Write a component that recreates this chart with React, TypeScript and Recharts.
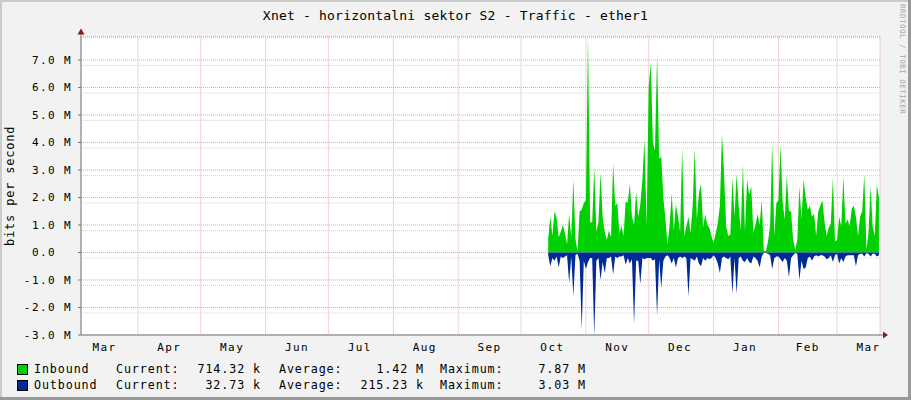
import React from "react";
import { ComposedChart, Area, XAxis, YAxis, CartesianGrid, ReferenceDot } from "recharts";

document.body.style.margin = "0";

const MONO = '"DejaVu Sans Mono", monospace';
const AXIS = "#7a7a7a";
const ARROW = "#8b1a1a";
const IN_COLOR = "#00CF00";
const OUT_COLOR = "#002A97";

// days counted from 1 Mar of the first year; samples are one per day
const FIRST_DAY = 227;

// Mbit/s
const inbound = [
  0.5, 1.3, 0.6, 1.5, 1.25, 0.55, 0.75, 1.0, 0.7, 0.3,
  1.4, 0.55, 2.65, 0.5, 0.05, 1.5, 1.55, 1.8, 1.9, 7.87,
  1.1, 1.1, 3.1, 0.75, 1.1, 2.9, 1.3, 0.75, 0.45, 0.8,
  0.55, 3.25, 1.7, 1.8, 0.7, 0.95, 0.6, 1.85, 1.8, 2.5,
  1.3, 1.0, 2.2, 1.3, 1.75, 2.65, 4.1, 0.95, 6.0, 6.9,
  4.0, 3.7, 7.2, 3.4, 3.5, 2.0, 1.2, 0.3, 1.0, 2.15,
  0.8, 1.75, 1.3, 0.75, 3.8, 0.6, 0.95, 1.3, 0.7, 1.7,
  3.8, 1.2, 2.15, 2.5, 0.9, 1.4, 1.0, 0.9, 0.6, 0.35,
  0.7, 1.05, 1.7, 4.3, 2.9, 0.95, 0.6, 0.65, 2.7, 1.3,
  2.85, 1.7, 0.8, 3.2, 0.75, 2.65, 2.1, 2.4, 0.7, 1.0,
  1.4, 1.0, 1.9, 0.05, 0.05, 0.4, 0.95, 4.0, 0.6, 1.8,
  1.9, 3.9, 1.8, 1.2, 2.8, 1.5, 1.5, 0.45, 0.1, 0.45,
  2.4, 1.2, 2.65, 2.0, 1.55, 1.7, 1.3, 1.4, 0.6, 1.5,
  1.7, 1.9, 1.1, 0.6, 0.9, 1.05, 2.7, 0.4, 0.45, 1.3,
  0.95, 2.75, 1.05, 1.2, 0.95, 1.6, 1.7, 1.3, 0.6, 1.3,
  1.5, 2.85, 0.1, 0.7, 2.4, 0.95, 0.6, 2.45, 2.0,
];

// magnitudes, drawn below zero
const outbound = [
  0.1, 0.5, 0.2, 0.3, 0.15, 0.55, 0.15, 0.2, 0.15, 0.1,
  1.1, 0.15, 1.6, 0.1, 0.05, 0.3, 2.8, 0.3, 0.6, 0.35,
  0.2, 0.2, 3.03, 0.3, 0.2, 1.0, 0.35, 0.75, 0.2, 0.2,
  0.15, 0.8, 0.15, 0.2, 0.15, 0.15, 0.1, 0.45, 0.2, 0.4,
  0.25, 2.6, 0.3, 0.3, 1.15, 0.2, 0.25, 0.2, 0.2, 0.2,
  0.3, 0.25, 2.3, 0.25, 1.3, 0.3, 0.15, 0.1, 0.2, 0.4,
  0.2, 0.55, 0.2, 0.15, 0.2, 0.15, 0.2, 1.6, 0.2, 0.25,
  0.3, 0.15, 0.4, 0.5, 0.2, 0.3, 0.2, 0.25, 0.2, 0.1,
  0.2, 0.4, 0.75, 0.2, 0.15, 0.2, 0.25, 0.15, 1.5, 0.2,
  1.5, 0.2, 0.15, 0.3, 0.35, 0.2, 0.35, 0.4, 0.15, 0.2,
  0.3, 0.55, 0.15, 0.02, 0.02, 0.05, 0.1, 0.6, 0.2, 0.15,
  0.15, 0.25, 0.35, 0.2, 0.3, 0.9, 0.2, 0.1, 0.02, 0.05,
  1.0, 0.3, 0.6, 0.55, 0.2, 0.15, 0.3, 0.15, 0.1, 0.15,
  0.1, 0.1, 0.15, 0.25, 0.2, 0.1, 0.35, 0.1, 0.05, 0.4,
  0.2, 0.35, 0.15, 0.1, 0.1, 0.1, 0.1, 0.5, 0.1, 0.05,
  0.05, 0.15, 0.03, 0.05, 0.15, 0.05, 0.05, 0.15, 0.1,
];

const monthStartDays = [31, 61, 92, 122, 153, 184, 214, 245, 275, 306, 337, 365];
const monthLabelDays = [15, 46, 76, 107, 137, 168, 199, 229, 260, 290, 321, 351, 380];
const monthNames = ["Mar", "Apr", "May", "Jun", "Jul", "Aug", "Sep", "Oct", "Nov", "Dec", "Jan", "Feb", "Mar"];
const yTicks = [-3, -2, -1, 0, 1, 2, 3, 4, 5, 6, 7];
const yMinorTicks = Array.from({ length: 55 }, (_, i) => Math.round((-3 + i * 0.2) * 10) / 10);

const X_DOMAIN: [number, number] = [3.8, 385.5];
const Y_DOMAIN: [number, number] = [-3, 7.85];

const legendRows = [
  { color: IN_COLOR, name: "Inbound", cur: "714.32 k", avg: "1.42 M", max: "7.87 M" },
  { color: OUT_COLOR, name: "Outbound", cur: "32.73 k", avg: "215.23 k", max: "3.03 M" },
];

const data = inbound.map((v, i) => ({ day: FIRST_DAY + i, inbound: v, outbound: -outbound[i] }));

const fmtY = (v: number) => (v === 0 ? "0.0\u00a0\u00a0" : `${v.toFixed(1)} M`);
const fmtMonth = (d: number) => monthNames[monthLabelDays.indexOf(d)] ?? "";

const UpArrow = ({ cx, cy }: { cx: number; cy: number }) => (
  <g>
    <line x1={cx} y1={cy} x2={cx} y2={cy - 3} stroke={AXIS} />
    <polygon points={`${cx - 3.5},${cy - 2} ${cx + 3.5},${cy - 2} ${cx},${cy - 8}`} fill={ARROW} />
  </g>
);

const RightArrow = ({ cx, cy }: { cx: number; cy: number }) => (
  <g>
    <line x1={cx} y1={cy} x2={cx + 4} y2={cy} stroke={AXIS} />
    <polygon points={`${cx + 3},${cy - 3.5} ${cx + 3},${cy + 3.5} ${cx + 8},${cy}`} fill={ARROW} />
  </g>
);

const abs = (style: React.CSSProperties): React.CSSProperties => ({ position: "absolute", whiteSpace: "pre", ...style });

function Legend() {
  const text = { fontFamily: MONO, fontSize: 11.7, letterSpacing: 0.9, color: "#000", lineHeight: "14px" };
  return (
    <>
      {legendRows.map((r, i) => {
        const top = 362 + i * 16;
        return (
          <React.Fragment key={r.name}>
            <div style={abs({ left: 17, top: top + 2, width: 9, height: 9, background: r.color, border: "1px solid #000" })} />
            <div style={abs({ ...text, left: 34, top })}>{r.name}</div>
            <div style={abs({ ...text, left: 116, top })}>Current:</div>
            <div style={abs({ ...text, right: 911 - 261, top, textAlign: "right" })}>{r.cur}</div>
            <div style={abs({ ...text, left: 279, top })}>Average:</div>
            <div style={abs({ ...text, right: 911 - 424, top, textAlign: "right" })}>{r.avg}</div>
            <div style={abs({ ...text, left: 440, top })}>Maximum:</div>
            <div style={abs({ ...text, right: 911 - 586, top, textAlign: "right" })}>{r.max}</div>
          </React.Fragment>
        );
      })}
    </>
  );
}

export default function App() {
  const tick = { fontFamily: MONO, fontSize: 11, fill: "#000", letterSpacing: 1.4 };
  return (
    <div style={{ position: "relative", width: 911, height: 400, background: "#f2f2f2", overflow: "hidden" }}>
      <div style={abs({ left: 0, top: 0, width: 911, height: 2, background: "#cbcbcb" })} />
      <div style={abs({ left: 0, top: 0, width: 2, height: 400, background: "#cbcbcb" })} />
      <div style={abs({ left: 0, top: 397, width: 911, height: 3, background: "#999" })} />
      <div style={abs({ left: 908, top: 0, width: 3, height: 400, background: "#999" })} />

      <div style={abs({ left: 0, width: 911, top: 8, textAlign: "center", fontFamily: MONO, fontSize: 13, letterSpacing: 0.2, lineHeight: "16px", color: "#000" })}>
        Xnet - horizontalni sektor S2 - Traffic - ether1
      </div>
      <div style={abs({ left: 898, top: 4, writingMode: "vertical-rl", fontFamily: MONO, fontSize: 7.5, letterSpacing: 0.5, color: "#a5a5a5" })}>
        RRDTOOL / TOBI OETIKER
      </div>

      <div style={abs({ left: 0, top: 0 })}>
        <ComposedChart width={911} height={400} data={data} margin={{ top: 36.6, right: 31, bottom: 0, left: 0 }}>
          <XAxis
            xAxisId="lab"
            dataKey="day"
            type="number"
            domain={X_DOMAIN}
            ticks={monthLabelDays}
            interval={0}
            height={65}
            allowDataOverflow
            tickFormatter={fmtMonth}
            axisLine={{ stroke: AXIS }}
            tickLine={false}
            tickSize={0}
            tickMargin={8}
            tick={tick}
          />
          <XAxis xAxisId="grid" dataKey="day" type="number" domain={X_DOMAIN} ticks={monthStartDays} hide height={0} allowDataOverflow />
          <YAxis
            yAxisId="main"
            type="number"
            domain={Y_DOMAIN}
            ticks={yTicks}
            interval={0}
            width={81}
            allowDataOverflow
            tickFormatter={fmtY}
            axisLine={{ stroke: AXIS }}
            tickLine={{ stroke: AXIS }}
            tickSize={3}
            tickMargin={6}
            tick={tick}
            label={{
              content: ({ viewBox }: any) => (
                <text
                  x={14.5}
                  y={viewBox.y + viewBox.height / 2}
                  transform={`rotate(-90 14.5 ${viewBox.y + viewBox.height / 2})`}
                  textAnchor="middle"
                  fontFamily={MONO}
                  fontSize={12}
                  letterSpacing={0.8}
                  fill="#000"
                >
                  bits per second
                </text>
              ),
            }}
          />
          <YAxis yAxisId="minor" type="number" domain={Y_DOMAIN} ticks={yMinorTicks} hide width={0} allowDataOverflow />
          <CartesianGrid xAxisId="grid" yAxisId="minor" vertical={false} stroke="#d6d6d6" strokeDasharray="1 1" fill="#ffffff" fillOpacity={1} />
          <CartesianGrid xAxisId="grid" yAxisId="main" stroke="#eea3a3" strokeDasharray="1 1" />
          <Area
            xAxisId="grid"
            yAxisId="main"
            dataKey="inbound"
            type="linear"
            baseValue={0}
            stroke="none"
            fill={IN_COLOR}
            fillOpacity={1}
            dot={false}
            activeDot={false}
            isAnimationActive={false}
          />
          <Area
            xAxisId="grid"
            yAxisId="main"
            dataKey="outbound"
            type="linear"
            baseValue={0}
            stroke="none"
            fill={OUT_COLOR}
            fillOpacity={1}
            dot={false}
            activeDot={false}
            isAnimationActive={false}
          />
          <ReferenceDot xAxisId="grid" yAxisId="main" x={X_DOMAIN[0]} y={Y_DOMAIN[1]} r={0} ifOverflow="visible" shape={(p: any) => <UpArrow cx={p.cx} cy={p.cy} />} />
          <ReferenceDot xAxisId="grid" yAxisId="main" x={X_DOMAIN[1]} y={Y_DOMAIN[0]} r={0} ifOverflow="visible" shape={(p: any) => <RightArrow cx={p.cx} cy={p.cy} />} />
        </ComposedChart>
      </div>
      <Legend />
    </div>
  );
}
